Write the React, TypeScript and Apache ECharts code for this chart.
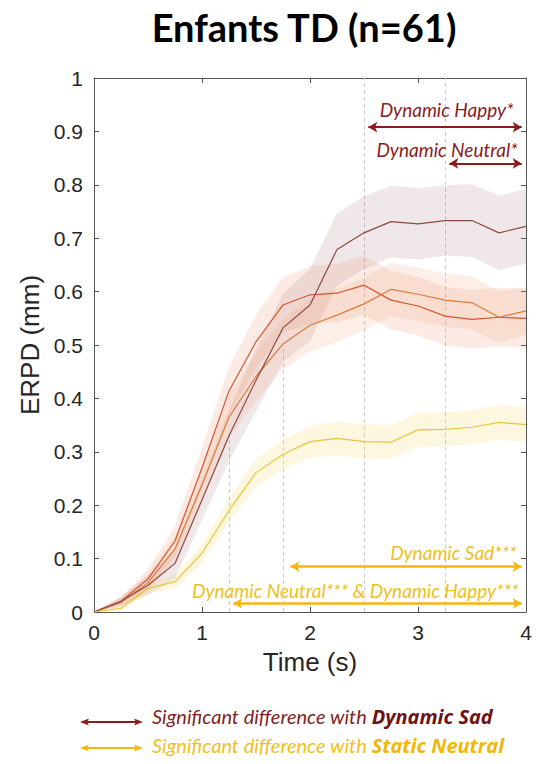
import React, { useEffect, useRef } from "react";
import * as echarts from "echarts";

// ---- data ----
const time = [0, 0.25, 0.5, 0.75, 1, 1.25, 1.5, 1.75, 2, 2.25, 2.5, 2.75, 3, 3.25, 3.5, 3.75, 4];

const sadMean = [0, 0.02, 0.05, 0.091, 0.21, 0.33, 0.434, 0.532, 0.575, 0.679, 0.71, 0.731, 0.727, 0.733, 0.733, 0.71, 0.722];
const sadSem = [0, 0.008, 0.018, 0.028, 0.038, 0.048, 0.058, 0.064, 0.068, 0.068, 0.068, 0.067, 0.067, 0.066, 0.068, 0.07, 0.07];

const happyMean = [0, 0.02, 0.062, 0.133, 0.27, 0.414, 0.506, 0.575, 0.594, 0.597, 0.612, 0.584, 0.573, 0.554, 0.548, 0.552, 0.55];
const happySem = [0, 0.008, 0.018, 0.028, 0.038, 0.045, 0.05, 0.052, 0.054, 0.055, 0.055, 0.055, 0.055, 0.055, 0.055, 0.055, 0.055];

const neutralMean = [0, 0.018, 0.055, 0.118, 0.238, 0.365, 0.441, 0.502, 0.537, 0.556, 0.577, 0.604, 0.595, 0.584, 0.579, 0.552, 0.564];
const neutralSem = [0, 0.008, 0.016, 0.024, 0.034, 0.04, 0.045, 0.048, 0.05, 0.05, 0.05, 0.05, 0.05, 0.05, 0.05, 0.048, 0.045];

const staticMean = [0, 0.007, 0.044, 0.057, 0.11, 0.19, 0.261, 0.295, 0.319, 0.325, 0.319, 0.318, 0.341, 0.342, 0.346, 0.355, 0.351];
const staticSem = [0, 0.005, 0.01, 0.012, 0.018, 0.022, 0.026, 0.028, 0.03, 0.032, 0.032, 0.032, 0.032, 0.032, 0.032, 0.033, 0.033];

// significance ranges
const sadSignif = [
  { from: 2.5, to: 4, y: 0.908, label: "Dynamic Happy*" },
  { from: 3.25, to: 4, y: 0.84, label: "Dynamic Neutral*" },
];
const staticSignif = [
  { from: 1.78, to: 4, y: 0.085, label: "Dynamic Sad***" },
  { from: 1.25, to: 4, y: 0.016, label: "Dynamic Neutral*** & Dynamic Happy***" },
];

// dashed guides: [x, yFrom, yTo]
const guides = [
  [1.25, 0, 0.33],
  [1.75, 0, 0.5],
  [2.5, 0, 1],
  [3.25, 0, 1],
];

const xTicks = { min: 0, max: 4, interval: 1 };
const yTicks = { min: 0, max: 1, interval: 0.1 };

const DARK_RED = "#8b1c1c";
const GOLD = "#f5b70f";
const GOLD_TEXT = "#f0bf22";

export default function App() {
  const ref = useRef<HTMLDivElement>(null);

  useEffect(() => {
    if (!ref.current) return;
    const chart = echarts.init(ref.current, null, { renderer: "svg" });

    const band = (id: string, mean: number[], sem: number[], color: string) => ({
      type: "custom",
      name: id + "-band",
      coordinateSystem: "cartesian2d",
      silent: true,
      z: 2,
      data: time.map((t, i) => [t, Math.max(0, mean[i] - sem[i]), mean[i] + sem[i]]),
      encode: { x: 0, y: [1, 2] },
      renderItem: (params: any, api: any) => {
        if (params.dataIndex !== 0) return null;
        const upper = time.map((t, i) => api.coord([t, mean[i] + sem[i]]));
        const lower = time.map((t, i) => api.coord([t, Math.max(0, mean[i] - sem[i])])).reverse();
        return {
          type: "polygon",
          shape: { points: upper.concat(lower) },
          style: { fill: color, stroke: "none" },
          silent: true,
        };
      },
    });

    const meanLine = (id: string, mean: number[], color: string, extra: any = {}) => ({
      type: "line",
      name: id,
      data: time.map((t, i) => [t, mean[i]]),
      symbol: "none",
      lineStyle: { color, width: 1.2 },
      silent: true,
      clip: false,
      z: 3,
      ...extra,
    });

    const inset = 0.04;
    const arrowMark = (items: any[], color: string, textColor: string, width: number, dists: number[], size: number) => ({
      silent: true,
      z: 6,
      symbol: ["arrow", "arrow"],
      symbolSize: [8, 9],
      animation: false,
      data: items.map((it, k) => [
        {
          coord: [it.from + inset, it.y],
          lineStyle: { color, width, type: "solid" },
          label: {
            show: true,
            formatter: it.label,
            position: "insideEndTop",
            distance: dists[k],
            color: textColor,
            fontStyle: "italic",
            fontFamily: "Lato",
            fontSize: size,
          },
        },
        { coord: [it.to - inset, it.y] },
      ]),
    });

    const axisLineStyle = { color: "#555555", width: 1 };
    const labelStyle = { color: "#262626", fontFamily: "Liberation Sans", fontSize: 21 };

    const option: any = {
      animation: false,
      grid: { left: 94, right: 10, top: 78, bottom: 152 },
      xAxis: [
        {
          type: "value",
          ...xTicks,
          position: "bottom",
          axisLine: { show: true, onZero: false, lineStyle: axisLineStyle },
          axisTick: { show: true, inside: true, length: 5, lineStyle: axisLineStyle },
          axisLabel: { ...labelStyle, margin: 10 },
          splitLine: { show: false },
          name: "Time (s)",
          nameLocation: "middle",
          nameGap: 37,
          nameTextStyle: { ...labelStyle, fontSize: 26 },
        },
        {
          type: "value",
          ...xTicks,
          position: "top",
          axisLine: { show: true, onZero: false, lineStyle: axisLineStyle },
          axisTick: { show: true, inside: true, length: 5, lineStyle: axisLineStyle },
          axisLabel: { show: false },
          splitLine: { show: false },
        },
      ],
      yAxis: [
        {
          type: "value",
          ...yTicks,
          position: "left",
          axisLine: { show: true, onZero: false, lineStyle: axisLineStyle },
          axisTick: { show: true, inside: true, length: 5, lineStyle: axisLineStyle },
          axisLabel: { ...labelStyle, margin: 11 },
          splitLine: { show: false },
          name: "ERPD (mm)",
          nameLocation: "middle",
          nameGap: 50,
          nameTextStyle: { ...labelStyle, fontSize: 26 },
        },
        {
          type: "value",
          ...yTicks,
          position: "right",
          axisLine: { show: true, onZero: false, lineStyle: axisLineStyle },
          axisTick: { show: true, inside: true, length: 5, lineStyle: axisLineStyle },
          axisLabel: { show: false },
          splitLine: { show: false },
        },
      ],
      series: [
        {
          type: "line",
          name: "guides",
          data: [],
          silent: true,
          z: 1,
          markLine: {
            silent: true,
            z: 1,
            symbol: "none",
            label: { show: false },
            lineStyle: { type: [4, 3], color: "#cccccc", width: 1 },
            data: guides.map((g) => [{ coord: [g[0], g[1]] }, { coord: [g[0], g[2]] }]),
          },
        },
        band("sad", sadMean, sadSem, "rgba(140,80,76,0.13)"),
        band("happy", happyMean, happySem, "rgba(232,112,72,0.14)"),
        band("neutral", neutralMean, neutralSem, "rgba(238,140,92,0.14)"),
        band("static", staticMean, staticSem, "rgba(246,208,70,0.17)"),
        meanLine("Dynamic Happy", happyMean, "#d4552c"),
        meanLine("Dynamic Neutral", neutralMean, "#dc7c3c"),
        meanLine("Dynamic Sad", sadMean, "#8c4946", {
          markLine: arrowMark(sadSignif, DARK_RED, DARK_RED, 2, [8, 4], 19),
        }),
        meanLine("Static Neutral", staticMean, "#e9c53a", {
          markLine: arrowMark(staticSignif, GOLD, GOLD_TEXT, 2.5, [5, 3], 19),
        }),
      ],
      graphic: [
        {
          type: "text",
          x: 304,
          y: 27,
          style: {
            text: "Enfants TD (n=61)",
            font: "bold 38px Lato",
            fill: "#000000",
            align: "center",
            verticalAlign: "middle",
          },
        },
        // legend arrow 1
        { type: "line", shape: { x1: 84, y1: 722, x2: 139, y2: 722 }, style: { stroke: DARK_RED, lineWidth: 2 } },
        { type: "polygon", shape: { points: [[80, 722], [89, 718.5], [87, 722], [89, 725.5]] }, style: { fill: DARK_RED } },
        { type: "polygon", shape: { points: [[143, 722], [134, 718.5], [136, 722], [134, 725.5]] }, style: { fill: DARK_RED } },
        {
          type: "text",
          x: 152,
          y: 716,
          style: {
            text: "{a|Significant difference with }{b|Dynamic Sad}",
            verticalAlign: "middle",
            rich: {
              a: { fontStyle: "italic", fontFamily: "Lato", fontSize: 20, fill: "#7f1f1f" },
              b: { fontStyle: "italic", fontWeight: "bold", fontFamily: "Open Sans", fontSize: 20, fill: "#6e1212" },
            },
          },
        },
        // legend arrow 2
        { type: "line", shape: { x1: 84, y1: 748, x2: 139, y2: 748 }, style: { stroke: GOLD, lineWidth: 2 } },
        { type: "polygon", shape: { points: [[80, 748], [89, 744.5], [87, 748], [89, 751.5]] }, style: { fill: GOLD } },
        { type: "polygon", shape: { points: [[143, 748], [134, 744.5], [136, 748], [134, 751.5]] }, style: { fill: GOLD } },
        {
          type: "text",
          x: 152,
          y: 745,
          style: {
            text: "{a|Significant difference with }{b|Static Neutral}",
            verticalAlign: "middle",
            rich: {
              a: { fontStyle: "italic", fontFamily: "Lato", fontSize: 20, fill: GOLD_TEXT },
              b: { fontStyle: "italic", fontWeight: "bold", fontFamily: "Open Sans", fontSize: 20, fill: "#f2b705" },
            },
          },
        },
      ],
    };

    chart.setOption(option);
    return () => chart.dispose();
  }, []);

  return (
    <div
      ref={ref}
      style={{ position: "absolute", left: 0, top: 0, width: 536, height: 764, background: "#ffffff" }}
    />
  );
}
